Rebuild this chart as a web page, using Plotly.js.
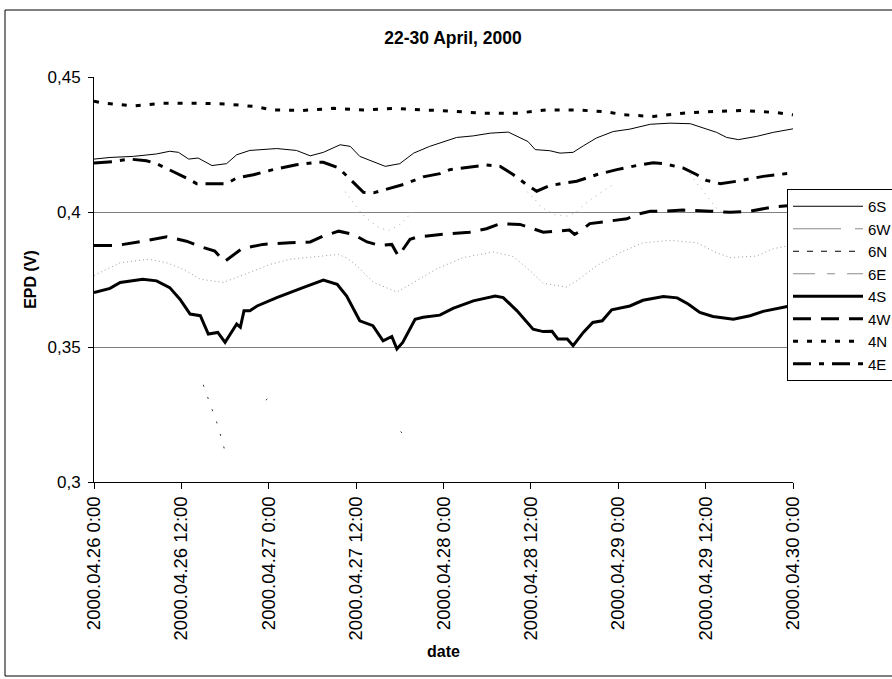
<!DOCTYPE html>
<html>
<head>
<meta charset="utf-8">
<script src="https://cdn.plot.ly/plotly-3.0.1.min.js"></script>
<style>
html,body{margin:0;padding:0;overflow:hidden;background:#fff;}
#chart{width:960px;height:679px;}
</style>
</head>
<body>
<div id="chart"></div>
<script>
// ---- data (hours since 2000-04-26 00:00, EPD in V) ----
const hours6S = [0,2.2,5.4,8.6,10.4,11.6,13.0,14.3,16.2,18.2,19.6,21.4,25.1,27.8,29.7,31.5,33.8,35.2,36.5,38.4,40.0,42.0,43.9,46.1,48.0,49.8,52.1,54.4,56.9,58.5,59.6,60.6,62.6,64.0,65.8,67.2,69.0,71.3,73.6,76.4,79.1,81.9,83.7,85.5,86.9,88.5,91.0,93.3,96];
const epd6S   = [0.4196,0.4202,0.4206,0.4215,0.4225,0.4221,0.4196,0.4200,0.4172,0.4179,0.4212,0.4228,0.4235,0.4228,0.4208,0.4221,0.4249,0.4243,0.4206,0.4187,0.4169,0.4179,0.4218,0.4243,0.4261,0.4276,0.4282,0.4292,0.4296,0.4277,0.4261,0.4231,0.4227,0.4218,0.4221,0.4245,0.4274,0.4298,0.4307,0.4325,0.4329,0.4327,0.4311,0.4295,0.4276,0.4268,0.4280,0.4295,0.4308];

const hours6W = [0,3.6,7.5,10.0,12.3,14.6,17.8,20.1,24.2,26.9,31.5,33.6,34.9,36.1,38.4,41.6,43.9,47.1,50.7,54.8,57.6,59.9,61.7,64.9,66.3,69.0,72.2,75.4,79.1,82.8,85.5,87.4,91.0,93.3,96];
const epd6W   = [0.3765,0.3812,0.3825,0.3812,0.3788,0.3751,0.3739,0.3763,0.3806,0.3825,0.3839,0.3843,0.3827,0.3800,0.3739,0.3704,0.3739,0.3790,0.3831,0.3852,0.3835,0.3782,0.3736,0.3722,0.3745,0.3800,0.3849,0.3886,0.3895,0.3886,0.3849,0.3831,0.3837,0.3864,0.3878];

const hours6N = [15.0,17.0,18.0,18.5,23.6,24.2,25.0,42.1,42.7];
const epd6N   = [0.3360,0.3210,0.3113,null,0.3303,0.3318,null,0.3187,0.3172];

const hours6E = [34.5,35.4,36.0,36.5,37.5,39.0,40.4,42.0,43.0,43.7,44.0,59.5,60.6,61.5,63.3,65.0,66.3,67.4,68.4,69.5,71.2,72.0,81.9,82.8,83.6,84.3,84.9,85.4,86.2,87.3];
const epd6E   = [0.4075,0.4043,0.4025,0.4003,0.3975,0.3945,0.3930,0.3953,0.3980,0.4000,null,0.4075,0.4045,0.4016,0.3990,0.3985,0.4000,0.4030,0.4050,0.4070,0.4100,null,0.4140,0.4105,0.4080,0.4055,0.4030,0.4016,0.4000,0.3995];

const hours4S = [0,2.2,3.6,6.7,8.6,10.4,11.8,13.2,14.6,15.7,17.0,18.0,19.6,20.1,20.6,21.4,22.4,25.1,28.7,31.5,33.4,34.7,36.5,38.3,39.7,40.9,41.6,42.4,44.1,45.2,47.5,49.3,52.1,55.1,56.2,58.1,60.3,61.7,62.9,63.7,65.0,65.8,67.2,68.5,69.8,71.1,73.6,75.4,78.2,80.1,81.6,83.2,85.0,87.8,90.1,91.9,95.2,96];
const epd4S   = [0.3702,0.3717,0.3739,0.3751,0.3745,0.3720,0.3677,0.3622,0.3616,0.3548,0.3554,0.3517,0.3585,0.3573,0.3634,0.3634,0.3652,0.3683,0.3720,0.3748,0.3732,0.3689,0.3597,0.3579,0.3523,0.3539,0.3493,0.3517,0.3603,0.3610,0.3618,0.3643,0.3671,0.3689,0.3683,0.3634,0.3566,0.3557,0.3558,0.3530,0.3530,0.3505,0.3554,0.3591,0.3597,0.3638,0.3652,0.3673,0.3687,0.3682,0.3659,0.3628,0.3613,0.3603,0.3616,0.3632,0.3650,0.3652];

const hours4W = [0,3.1,6.8,10.0,12.7,14.6,16.6,17.9,20.3,23.2,26.9,29.7,31.5,33.6,35.6,37.5,39.3,40.9,41.8,43.4,44.5,47.5,48.9,51.6,53.9,55.8,58.5,59.9,61.7,63.6,65.3,66.0,66.8,68.1,70.4,73.2,74.5,76.4,78.2,80.9,84.6,87.4,90.1,93.3,96];
const epd4W   = [0.3876,0.3876,0.3892,0.3908,0.3892,0.3872,0.3855,0.3816,0.3864,0.3880,0.3886,0.3889,0.3911,0.3929,0.3917,0.3889,0.3876,0.3880,0.3837,0.3899,0.3908,0.3917,0.3920,0.3925,0.3938,0.3957,0.3954,0.3942,0.3925,0.3929,0.3933,0.3917,0.3929,0.3957,0.3966,0.3975,0.3991,0.4003,0.4003,0.4007,0.4003,0.3999,0.4003,0.4019,0.4025];

const hours4N = [0,1.2,5.4,9.5,14.1,18.2,22.3,24.4,28.7,32.9,37.0,41.1,45.2,47.5,53.5,58.1,62.2,66.3,70.4,72.7,76.8,80.9,85.1,89.2,93.8,96];
const epd4N   = [0.4410,0.4404,0.4393,0.4403,0.4403,0.4400,0.4390,0.4378,0.4376,0.4384,0.4378,0.4384,0.4378,0.4376,0.4366,0.4366,0.4378,0.4378,0.4371,0.4360,0.4354,0.4366,0.4372,0.4376,0.4368,0.4360];

const hours4E = [0,2.7,4.9,7.2,8.6,10.4,12.7,14.1,15.9,18.2,19.6,21.9,24.6,27.8,30.6,31.5,33.6,35.6,37.0,38.4,40.7,42.5,45.2,47.5,48.9,52.1,53.9,55.8,57.6,59.4,60.8,62.6,64.5,66.3,69.0,71.8,74.5,76.8,78.2,80.9,82.8,84.1,86.0,88.3,91.9,96];
const epd4E   = [0.4181,0.4187,0.4196,0.4190,0.4179,0.4157,0.4126,0.4105,0.4105,0.4105,0.4126,0.4138,0.4157,0.4175,0.4184,0.4184,0.4163,0.4108,0.4073,0.4071,0.4089,0.4102,0.4130,0.4142,0.4157,0.4169,0.4174,0.4169,0.4138,0.4102,0.4077,0.4098,0.4105,0.4114,0.4138,0.4157,0.4172,0.4182,0.4179,0.4163,0.4138,0.4117,0.4105,0.4114,0.4132,0.4145];

const yTicks = [0.3, 0.35, 0.4, 0.45];
const titleText = '22-30 April, 2000';
const xTitle = 'date';
const yTitle = 'EPD (V)';

// ---- helpers ----
const T0 = Date.UTC(2000, 3, 26, 0, 0, 0);
function toDate(h) {
  const d = new Date(T0 + Math.round(h * 3600000));
  return d.toISOString().slice(0, 19).replace('T', ' ');
}
const dates = arr => arr.map(toDate);

const FONT = 'Liberation Sans, Arial, sans-serif';
const GRAY = '#8a8a8a';

function line(name, hrs, vals, color, width, dash, extra) {
  return Object.assign({
    type: 'scatter', mode: 'lines', name: name,
    x: dates(hrs), y: vals,
    line: {color: color, width: width, dash: dash, shape: 'linear'},
    connectgaps: false, hoverinfo: 'skip'
  }, extra || {});
}
// legend-only entries (style as shown in the legend box)
function legendEntry(name, color, width, dash) {
  return {type: 'scatter', mode: 'lines', name: name, x: [null], y: [null],
          legendgroup: name, line: {color: color, width: width, dash: dash}, hoverinfo: 'skip'};
}

const traces = [
  line('6S', hours6S, epd6S, '#000', 1, 'solid'),
  legendEntry('6W', GRAY, 1, '48px,14px'),
  line('6W', hours6W, epd6W, '#9a9a9a', 1, '1px,3px', {showlegend: false, legendgroup: '6W'}),
  legendEntry('6N', '#000', 1, '6px,8px'),
  line('6N', hours6N, epd6N, '#333', 1, '2px,11px', {showlegend: false, legendgroup: '6N'}),
  legendEntry('6E', GRAY, 1, '22px,12px,8px,12px'),
  line('6E', hours6E, epd6E, '#aaaaaa', 1, '1px,5px', {showlegend: false, legendgroup: '6E'}),
  line('4S', hours4S, epd4S, '#000', 3, 'solid'),
  line('4W', hours4W, epd4W, '#000', 3, '18px,10px'),
  line('4N', hours4N, epd4N, '#000', 3, '5px,9px'),
  line('4E', hours4E, epd4E, '#000', 3, '18px,8px,5px,8px')
];

// plot area in pixels
const W = 960, H = 679;
const L = 94, R = 793, TOP = 77, BOT = 482;
const pw = R - L, ph = BOT - TOP;

const layout = {
  width: W, height: H,
  margin: {l: L, r: W - R, t: TOP, b: H - BOT, pad: 0},
  paper_bgcolor: '#fff', plot_bgcolor: '#fff',
  separators: ',.',
  font: {family: FONT, color: '#000', size: 16},
  showlegend: true,
  title: {
    text: '<b>' + titleText + '</b>',
    font: {family: FONT, size: 17.5, color: '#000'},
    xref: 'container', yref: 'container',
    x: 453 / W, xanchor: 'center',
    y: 1 - 38 / H, yanchor: 'middle'
  },
  xaxis: {
    type: 'date',
    range: [toDate(0), toDate(96)],
    tick0: toDate(0), dtick: 12 * 3600000,
    tickformat: '%Y.%m.%d %-H:%M',
    tickangle: -90,
    ticks: 'outside', ticklen: 6, tickcolor: '#000', tickwidth: 1,
    showline: true, linecolor: '#000', linewidth: 1,
    showgrid: false, zeroline: false,
    tickfont: {family: FONT, size: 18.5, color: '#000'},
    title: {text: '<b>' + xTitle + '</b>', font: {family: FONT, size: 16, color: '#000'}, standoff: 6},
    automargin: false, fixedrange: true
  },
  yaxis: {
    range: [0.3, 0.45],
    tickmode: 'array', tickvals: yTicks,
    ticks: 'outside', ticklen: 5, tickcolor: '#000', tickwidth: 1,
    showline: true, linecolor: '#000', linewidth: 1,
    showgrid: true, gridcolor: '#808080', gridwidth: 1,
    zeroline: false,
    tickfont: {family: FONT, size: 17, color: '#000'},
    ticklabelstandoff: 4,
    title: {text: '<b>' + yTitle + '</b>', font: {family: FONT, size: 16, color: '#000'}, standoff: 6},
    automargin: false, fixedrange: true
  },
  legend: {
    x: (787 - L) / pw, xanchor: 'left',
    y: (BOT - 189) / ph, yanchor: 'top',
    bgcolor: '#fff', bordercolor: '#000', borderwidth: 1,
    font: {family: FONT, size: 15, color: '#000'},
    itemwidth: 70, tracegroupgap: 0,
    traceorder: 'normal'
  },
  shapes: [{
    type: 'rect', xref: 'paper', yref: 'paper',
    x0: (5 - L) / pw, x1: (958 - L) / pw,
    y0: (BOT - 676) / ph, y1: (BOT - 10) / ph,
    line: {color: '#000', width: 1}, fillcolor: 'rgba(0,0,0,0)', layer: 'below'
  }]
};

Plotly.newPlot('chart', traces, layout, {staticPlot: true, displayModeBar: false});
</script>
</body>
</html>
